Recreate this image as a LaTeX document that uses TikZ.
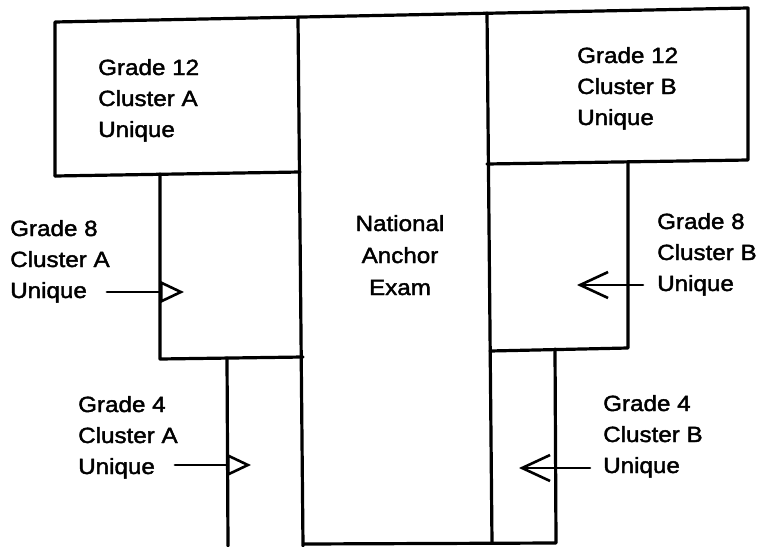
\documentclass[tikz,border=0pt]{standalone}
\usepackage{fontspec}
\setmainfont{Liberation Sans}[FakeStretch=1.1,FakeBold=1.8]
\usetikzlibrary{arrows.meta,calc}
\begin{document}
\begin{tikzpicture}[x=1pt,y=-1pt,line cap=round,line join=round,
  frame/.style={line width=3.2pt},
  lbl/.style={font=\fontsize{22}{31}\selectfont,inner sep=0pt,align=left,anchor=base west},
  inarrow/.style={line width=2.6pt,-{Triangle[open,length=24pt,width=22pt,line width=2.6pt]}},
  barb/.style={line width=2.6pt,-{Straight Barb[length=28pt,width=26pt,line width=2.6pt]}}]
\useasboundingbox (0,0) rectangle (760,546);
% outline of the blocks
\draw[frame] (55,176) -- (55,22) -- (748,8) -- (748,160) -- (487,164);
\draw[frame] (55,176) -- (300,172);
\draw[frame] (298,18) -- (303,546);
\draw[frame] (487,13) -- (492,543);
\draw[frame] (160,174) -- (160,359) -- (303,357);
\draw[frame] (227,358) -- (228,546);
\draw[frame] (628,162) -- (628,348) -- (490,351);
\draw[frame] (555,349) -- (556,543) -- (304,544);
% labels (anchored at the baseline of the last line)
\node[lbl] (t12a) at (98,137) {Grade 12\\Cluster A\\Unique};
\node[lbl] (t12b) at (577,125) {Grade 12\\Cluster B\\Unique};
\node[lbl] (t8a) at (10,298) {Grade 8\\Cluster A\\Unique};
\node[lbl] (t8b) at (657,291) {Grade 8\\Cluster B\\Unique};
\node[lbl] (t4a) at (78,474) {Grade 4\\Cluster A\\Unique};
\node[lbl] (t4b) at (603,473) {Grade 4\\Cluster B\\Unique};
\node[lbl,align=center,anchor=base,font=\fontsize{22}{32}\selectfont] (nae) at (400,295) {National\\Anchor\\Exam};
% arrows
\coordinate (e8a) at (184,292);
\coordinate (e4a) at (251,465);
\coordinate (e8b) at (577,285);
\coordinate (e4b) at (519,468);
\draw[inarrow] ($(t8a.east |- e8a)+(-3,0)$) -- (e8a);
\draw[inarrow] ($(t4a.east |- e4a)+(-3,0)$) -- (e4a);
\draw[barb] ($(t8b.west |- e8b)+(-14,0)$) -- (e8b);
\draw[barb] ($(t4b.west |- e4b)+(-13,0)$) -- (e4b);
\end{tikzpicture}
\end{document}
